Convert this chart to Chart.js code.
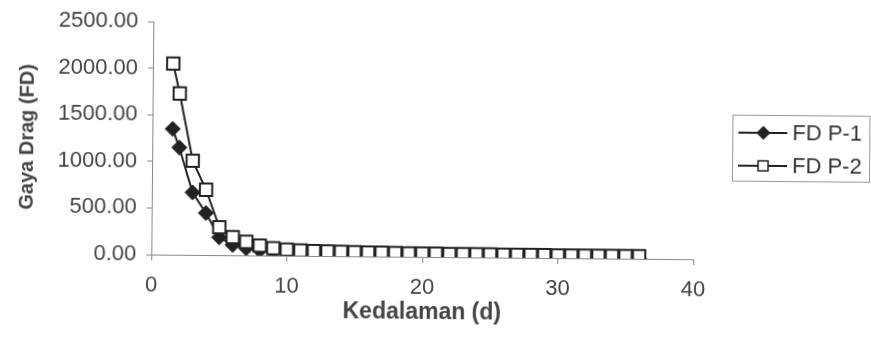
<!DOCTYPE html>
<html lang="id">
<head>
    <meta charset="UTF-8">
    <title>Gaya Drag vs Kedalaman</title>
    <script src="https://cdn.jsdelivr.net/npm/chart.js"></script>
    <style>
        body {
            margin: 0;
            background-color: #fff;
        }
        #chart {
            display: block;
            transform: rotate(0.5deg);
        }
    </style>
</head>
<body>
    <canvas id="chart" width="871" height="350"></canvas>

    <script>
        // kedalaman (d)
        const depth = [1.5, 2, 3, 4, 5, 6, 7, 8, 9, 10, 11, 12, 13, 14, 15, 16, 17, 18, 19, 20,
                       21, 22, 23, 24, 25, 26, 27, 28, 29, 30, 31, 32, 33, 34, 35, 36];
        const fdP1 = [1350, 1150, 670, 450, 190, 110, 75, 55, 42, 34, 28, 24, 21, 18, 16, 14, 13, 12, 11, 10,
                      9, 9, 8, 8, 7, 7, 6, 6, 6, 5, 5, 5, 5, 4, 4, 4];
        const fdP2 = [2050, 1730, 1010, 700, 300, 195, 145, 105, 80, 65, 58, 53, 49, 46, 44, 42, 40, 38, 37, 36,
                      35, 34, 33, 32, 32, 31, 31, 30, 30, 29, 29, 29, 28, 28, 28, 28];
        const seriesNames = ['FD P-1', 'FD P-2'];
        const xTicks = [0, 10, 20, 30, 40];
        const yTicks = [0, 500, 1000, 1500, 2000, 2500];

        const font = 'Liberation Sans, Arial, sans-serif';
        const ink = '#222';

        const toPoints = vals => vals.map((v, i) => ({x: depth[i], y: v}));

        // legend drawn as a framed box beside the plot
        const legendBox = {
            id: 'legendBox',
            afterDraw(chart) {
                const ctx = chart.ctx;
                ctx.save();
                ctx.strokeStyle = '#999';
                ctx.lineWidth = 1;
                ctx.strokeRect(732.5, 112.5, 137, 66);
                ctx.font = '22px ' + font;
                ctx.textBaseline = 'middle';
                chart.data.datasets.forEach((ds, i) => {
                    const y = 130 + i * 33;
                    ctx.strokeStyle = ink;
                    ctx.lineWidth = 2;
                    ctx.beginPath();
                    ctx.moveTo(738, y);
                    ctx.lineTo(787, y);
                    ctx.stroke();
                    ctx.beginPath();
                    if (ds.pointStyle === 'rectRot') {
                        ctx.moveTo(763, y - 6);
                        ctx.lineTo(769, y);
                        ctx.lineTo(763, y + 6);
                        ctx.lineTo(757, y);
                        ctx.closePath();
                        ctx.fillStyle = ink;
                    } else {
                        ctx.rect(758, y - 5, 10, 10);
                        ctx.fillStyle = '#fff';
                    }
                    ctx.fill();
                    ctx.lineWidth = 1.5;
                    ctx.stroke();
                    ctx.fillStyle = '#333';
                    ctx.fillText(ds.label, 792, y + 1);
                });
                ctx.restore();
            }
        };

        new Chart(document.getElementById('chart'), {
            type: 'line',
            data: {
                datasets: [{
                    label: seriesNames[0],
                    data: toPoints(fdP1),
                    borderColor: ink,
                    borderWidth: 2,
                    pointStyle: 'rectRot',
                    pointRadius: 7.5,
                    pointBackgroundColor: ink,
                    pointBorderColor: ink,
                    pointBorderWidth: 1,
                    order: 1
                }, {
                    label: seriesNames[1],
                    data: toPoints(fdP2),
                    borderColor: ink,
                    borderWidth: 2,
                    pointStyle: 'rect',
                    pointRadius: 8.7,
                    pointBackgroundColor: '#fff',
                    pointBorderColor: ink,
                    pointBorderWidth: 2,
                    order: 0
                }]
            },
            options: {
                responsive: false,
                animation: false,
                devicePixelRatio: 1,
                layout: {padding: {left: 0, top: 24, right: 177, bottom: 0}},
                plugins: {legend: {display: false}, tooltip: {enabled: false}},
                scales: {
                    x: {
                        type: 'linear',
                        min: 0,
                        max: 40,
                        afterBuildTicks: s => { s.ticks = xTicks.map(v => ({value: v})); },
                        afterFit: s => { s.height = 93; },
                        grid: {drawOnChartArea: false, color: '#888', tickLength: 6},
                        border: {color: '#888'},
                        ticks: {color: '#444', padding: 12, font: {family: font, size: 22}},
                        title: {
                            display: true,
                            text: 'Kedalaman (d)',
                            color: '#444',
                            font: {family: font, size: 23, weight: 'bold'},
                            padding: {top: 0, bottom: 24}
                        }
                    },
                    y: {
                        min: 0,
                        max: 2500,
                        afterBuildTicks: s => { s.ticks = yTicks.map(v => ({value: v})); },
                        afterFit: s => { s.width = 152; },
                        grid: {drawOnChartArea: false, color: '#888', tickLength: 5},
                        border: {color: '#888'},
                        ticks: {
                            color: '#444',
                            padding: 10,
                            font: {family: font, size: 22},
                            callback: v => v.toFixed(2)
                        },
                        title: {
                            display: true,
                            text: 'Gaya Drag (FD)',
                            color: '#444',
                            font: {family: font, size: 20, weight: 'bold'},
                            padding: {top: 15, bottom: 0}
                        }
                    }
                }
            },
            plugins: [legendBox]
        });
    </script>
</body>
</html>
